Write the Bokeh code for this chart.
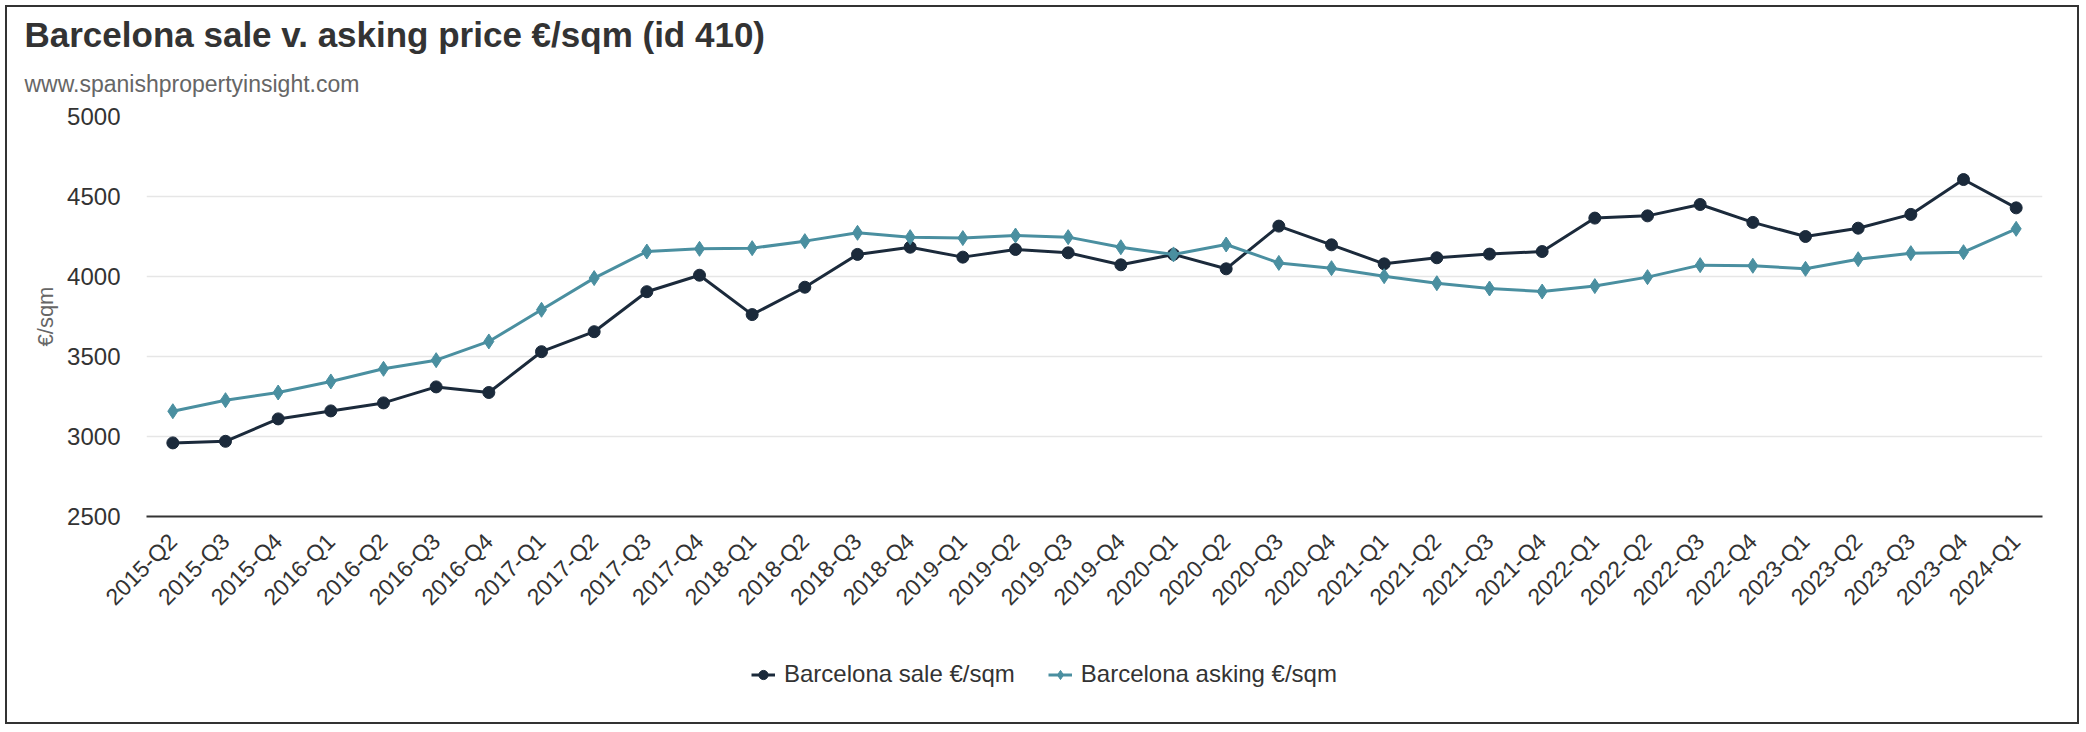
import math
from bokeh.plotting import figure
from bokeh.layouts import column
from bokeh.models import (Title, Legend, LegendItem, FixedTicker, Range1d,
                          FactorRange, ColumnDataSource)
from bokeh.embed import file_html
from bokeh.resources import INLINE

quarters = ["2015-Q2", "2015-Q3", "2015-Q4",
            "2016-Q1", "2016-Q2", "2016-Q3", "2016-Q4",
            "2017-Q1", "2017-Q2", "2017-Q3", "2017-Q4",
            "2018-Q1", "2018-Q2", "2018-Q3", "2018-Q4",
            "2019-Q1", "2019-Q2", "2019-Q3", "2019-Q4",
            "2020-Q1", "2020-Q2", "2020-Q3", "2020-Q4",
            "2021-Q1", "2021-Q2", "2021-Q3", "2021-Q4",
            "2022-Q1", "2022-Q2", "2022-Q3", "2022-Q4",
            "2023-Q1", "2023-Q2", "2023-Q3", "2023-Q4",
            "2024-Q1"]
sale = [2960, 2970, 3110, 3160, 3210, 3310, 3275, 3530, 3655, 3905, 4008,
        3762, 3933, 4138, 4183, 4121, 4169, 4148, 4073, 4138, 4048, 4315,
        4198, 4079, 4117, 4140, 4156, 4365, 4379, 4450, 4338, 4250, 4302,
        4388, 4606, 4429]
asking = [3158, 3227, 3275, 3344, 3423, 3477, 3594, 3792, 3990, 4156, 4173,
          4177, 4221, 4273, 4246, 4240, 4256, 4246, 4183, 4138, 4200, 4085,
          4052, 4002, 3958, 3925, 3906, 3940, 3996, 4071, 4067, 4048, 4108,
          4146, 4152, 4298]
y_ticks = [2500, 3000, 3500, 4000, 4500, 5000]

title_text = "Barcelona sale v. asking price €/sqm (id 410)"
subtitle_text = "www.spanishpropertyinsight.com"
sale_label = "Barcelona sale €/sqm"
asking_label = "Barcelona asking €/sqm"
y_label = "€/sqm"

FONT = "Liberation Sans"
SALE_C = "#1b2a3b"
ASK_C = "#4a8fa0"

src = ColumnDataSource(dict(q=quarters, sale=sale, asking=asking))

p = figure(x_range=FactorRange(factors=quarters, range_padding=0),
           y_range=Range1d(y_ticks[0], y_ticks[-1]),
           width=2070, height=619, output_backend="svg", toolbar_location=None,
           min_border_left=139, min_border_right=35, min_border_top=109,
           min_border_bottom=110)
p.outline_line_color = None
p.background_fill_color = "white"
p.border_fill_color = "white"

p.title.text = title_text
p.title.text_font = FONT
p.title.text_font_size = "35px"
p.title.text_font_style = "bold"
p.title.text_color = "#333333"
p.title.align = "left"
p.title.offset = -122
p.title.standoff = -8
sub = Title(text=subtitle_text, text_font=FONT, text_font_size="23px",
            text_font_style="normal", text_color="#666666", align="left",
            offset=-122, standoff=39)
p.add_layout(sub, "above")

l1 = p.line("q", "sale", source=src, line_color=SALE_C, line_width=3)
m1 = p.scatter("q", "sale", source=src, marker="circle", size=12,
               fill_color=SALE_C, line_color=SALE_C)
l2 = p.line("q", "asking", source=src, line_color=ASK_C, line_width=3)
m2 = p.scatter("q", "asking", source=src, marker="diamond", size=15,
               fill_color=ASK_C, line_color=ASK_C)

p.xgrid.grid_line_color = None
p.ygrid.grid_line_color = "#e6e6e6"
p.ygrid.grid_line_width = 1.5

xa = p.xaxis[0]
xa.axis_line_color = "#333333"
xa.axis_line_width = 2
xa.major_tick_line_color = None
xa.minor_tick_line_color = None
xa.major_label_orientation = math.pi / 4
xa.major_label_text_font = FONT
xa.major_label_text_font_size = "23px"
xa.major_label_text_color = "#333333"
xa.major_label_standoff = 15

ya = p.yaxis[0]
ya.ticker = FixedTicker(ticks=y_ticks)
ya.axis_line_color = None
ya.major_tick_line_color = None
ya.minor_tick_line_color = None
ya.major_label_text_font = FONT
ya.major_label_text_font_size = "24px"
ya.major_label_text_color = "#333333"
ya.major_label_standoff = 20
ya.axis_label = y_label
ya.axis_label_text_font = FONT
ya.axis_label_text_font_size = "22px"
ya.axis_label_text_font_style = "normal"
ya.axis_label_text_color = "#666666"
ya.axis_label_standoff = 6

# legend strip below the chart; its glyphs share the data source but the
# strip's y range lies far below the data, so only the legend shows
p2 = figure(width=2070, height=96, output_backend="svg", toolbar_location=None,
            x_range=FactorRange(factors=quarters, range_padding=0),
            y_range=Range1d(0, 1), min_border=0,
            min_border_left=139, min_border_right=35)
p2.axis.visible = False
p2.grid.visible = False
p2.outline_line_color = None
p2.border_fill_color = "white"
d1 = p2.line("q", "sale", source=src, line_color=SALE_C, line_width=3)
e1 = p2.scatter("q", "sale", source=src, marker="circle", size=12,
                fill_color=SALE_C, line_color=SALE_C)
d2 = p2.line("q", "asking", source=src, line_color=ASK_C, line_width=3)
e2 = p2.scatter("q", "asking", source=src, marker="diamond", size=15,
                fill_color=ASK_C, line_color=ASK_C)
legend = Legend(items=[LegendItem(label=sale_label, renderers=[d1, e1]),
                       LegendItem(label=asking_label, renderers=[d2, e2])],
                orientation="horizontal", location="center_left",
                label_text_font=FONT, label_text_font_size="24px",
                label_text_color="#333333", glyph_width=24, glyph_height=23,
                label_standoff=9, spacing=33, border_line_color=None,
                background_fill_alpha=0, margin=605, padding=0)
p2.add_layout(legend, "center")

layout = column(p, p2, spacing=0)
layout.margin = (7, 0, 0, 7)
layout.styles = {"outline": "2px solid #333333"}

open("out.html", "w").write(file_html(layout, INLINE))
